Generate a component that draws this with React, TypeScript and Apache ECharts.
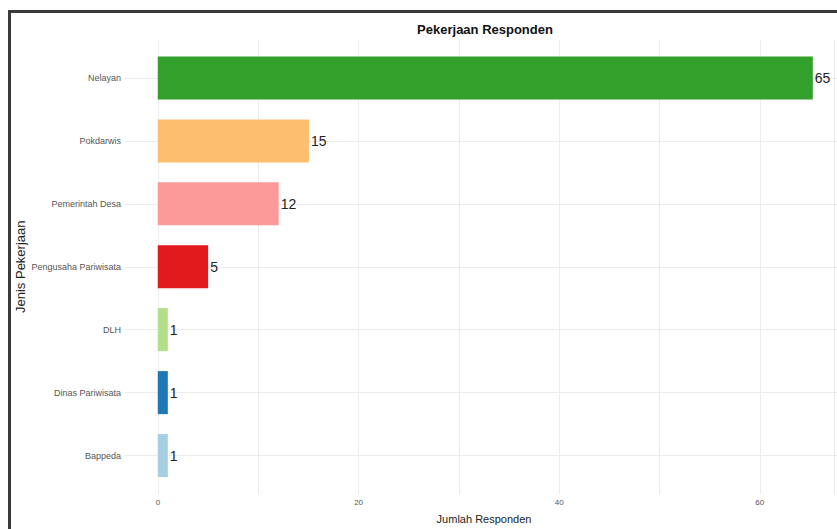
import React, { useEffect, useRef } from "react";
import * as echarts from "echarts";

const categories = [
  "Nelayan",
  "Pokdarwis",
  "Pemerintah Desa",
  "Pengusaha Pariwisata",
  "DLH",
  "Dinas Pariwisata",
  "Bappeda",
];
const values = [65, 15, 12, 5, 1, 1, 1];
const barColors = ["#33a02c", "#fdbf6f", "#fb9a99", "#e31a1c", "#b2df8a", "#1f78b4", "#a6cee3"];
const xTickStep = 10;
const xLabelStep = 20;
// visible x range (the original panel is cropped at the right edge)
const xMinVisible = -3.25;
const xMaxVisible = 67.4;

const FONT = "'Liberation Sans', Arial, sans-serif";

export default function App() {
  const ref = useRef<HTMLDivElement>(null);
  useEffect(() => {
    if (!ref.current) return;
    const chart = echarts.init(ref.current, null, { renderer: "svg" });
    chart.setOption({
      animation: false,
      backgroundColor: "#ffffff",
      textStyle: { fontFamily: FONT },
      title: {
        text: "Pekerjaan Responden",
        left: 480,
        top: 18,
        textAlign: "center",
        textStyle: { fontSize: 13, fontWeight: "bold", color: "#111", fontFamily: FONT },
      },
      grid: [
        { left: 125, right: 0, top: 46.5, height: 441 },
        { left: 158, right: 0, top: 40, height: 454 },
      ],
      xAxis: [
        {
          gridIndex: 0,
          type: "value",
          min: xMinVisible,
          max: xMaxVisible,
          show: true,
          axisLine: { show: false },
          axisTick: { show: false },
          axisLabel: { show: false },
          splitLine: { show: false },
          name: "Jumlah Responden",
          nameLocation: "middle",
          nameGap: 26,
          nameMoveOverlap: false,
          nameTextStyle: { fontSize: 11, color: "#222", fontFamily: FONT, padding: [0, 0, 0, 6] },
        },
        {
          gridIndex: 1,
          type: "value",
          min: 0,
          max: xMaxVisible,
          interval: xTickStep,
          axisLine: { show: false },
          axisTick: { show: false },
          splitLine: { show: true, lineStyle: { color: "#ebebeb", width: 1 } },
          axisLabel: {
            fontSize: 8,
            color: "#555",
            margin: 4,
            fontFamily: FONT,
            formatter: (v: number) => (v % xLabelStep === 0 ? String(v) : ""),
          },
        },
      ],
      yAxis: [
        {
          gridIndex: 0,
          type: "category",
          data: categories,
          inverse: true,
          axisLine: { show: false },
          axisTick: { show: false },
          splitLine: { show: false },
          axisLabel: { fontSize: 9, color: "#555", margin: 4, fontFamily: FONT },
          name: "Jenis Pekerjaan",
          nameLocation: "middle",
          nameGap: 98,
          nameMoveOverlap: false,
          nameTextStyle: { fontSize: 13, color: "#222", fontFamily: FONT },
        },
        {
          gridIndex: 1,
          type: "value",
          show: false,
          splitLine: { show: false },
        },
      ],
      series: [
        {
          type: "bar",
          xAxisIndex: 0,
          yAxisIndex: 0,
          z: 3,
          barWidth: 43,
          data: values.map((v, i) => ({
            value: v,
            itemStyle: { color: barColors[i] },
          })),
          label: {
            show: true,
            position: "right",
            distance: 2,
            fontSize: 14,
            color: "#222",
            fontFamily: FONT,
          },
          markLine: {
            silent: true,
            z: 1,
            symbol: "none",
            label: { show: false },
            lineStyle: { color: "#ebebeb", width: 1, type: "solid" },
            data: categories.map((c) => ({ yAxis: c })),
          },
        },
      ],
      graphic: [
        {
          type: "line",
          shape: { x1: 8, y1: 11.5, x2: 837, y2: 11.5 },
          style: { stroke: "#3a3a3a", lineWidth: 3 },
          z: 100,
        },
        {
          type: "line",
          shape: { x1: 9.5, y1: 10, x2: 9.5, y2: 529 },
          style: { stroke: "#3a3a3a", lineWidth: 3 },
          z: 100,
        },
      ],
    });
    return () => chart.dispose();
  }, []);
  return (
    <div
      ref={ref}
      style={{ position: "fixed", left: 0, top: 0, width: 837, height: 529 }}
    />
  );
}
